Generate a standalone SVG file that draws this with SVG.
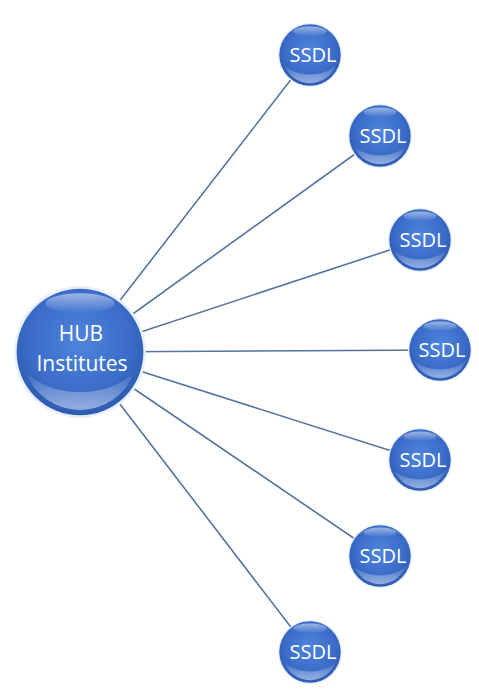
<svg xmlns="http://www.w3.org/2000/svg" width="479" height="691" viewBox="0 0 479 691">
  <defs>
    <radialGradient id="ball" cx="0.5" cy="0.42" r="0.58">
      <stop offset="0" stop-color="#4f84dc"/>
      <stop offset="0.7" stop-color="#3a6cc8"/>
      <stop offset="1" stop-color="#2d5bb2"/>
    </radialGradient>
    <linearGradient id="shine" x1="0" y1="0" x2="0" y2="1">
      <stop offset="0" stop-color="#ffffff" stop-opacity="0"/>
      <stop offset="1" stop-color="#d6e4ff" stop-opacity="0.6"/>
    </linearGradient>
    <linearGradient id="gloss" x1="0" y1="0" x2="0" y2="1">
      <stop offset="0" stop-color="#ffffff" stop-opacity="0.5"/>
      <stop offset="1" stop-color="#ffffff" stop-opacity="0"/>
    </linearGradient>
    <g id="orb">
      <circle r="1" fill="#e8effc"/>
      <circle r="0.96" fill="url(#ball)"/>
      <path d="M -0.82 0.3 A 0.87 0.87 0 0 0 0.82 0.3 A 0.95 0.62 0 0 1 -0.82 0.3 Z" fill="url(#shine)"/>
      <ellipse cx="0" cy="-0.74" rx="0.52" ry="0.15" fill="url(#gloss)"/>
    </g>
  </defs>
  <style>
    .spoke { stroke: #55739f; stroke-width: 1.6; fill: none; }
    .lbl { font-family: "Open Sans", "Liberation Sans", sans-serif; fill: #ffffff; text-anchor: middle; }
    .sm { font-size: 20px; }
    .lg { font-size: 21px; }
  </style>

  <!-- spokes from the hub to each satellite -->
  <g id="connectors">
    <line class="spoke" x1="80" y1="352" x2="310" y2="55"/>
    <line class="spoke" x1="80" y1="352" x2="380" y2="136"/>
    <line class="spoke" x1="80" y1="352" x2="420" y2="240"/>
    <line class="spoke" x1="80" y1="352" x2="440" y2="350"/>
    <line class="spoke" x1="80" y1="352" x2="420" y2="460"/>
    <line class="spoke" x1="80" y1="352" x2="380" y2="556"/>
    <line class="spoke" x1="80" y1="352" x2="310" y2="652"/>
  </g>

  <g id="hub">
    <use href="#orb" transform="translate(80 352) scale(66)"/>
    <text class="lbl lg" x="81" y="341">HUB</text>
    <text class="lbl lg" x="82" y="371">Institutes</text>
  </g>

  <g id="ssdl-1">
    <use href="#orb" transform="translate(310 55) scale(32)"/>
    <text class="lbl sm" x="313" y="62">SSDL</text>
  </g>
  <g id="ssdl-2">
    <use href="#orb" transform="translate(380 136) scale(32)"/>
    <text class="lbl sm" x="383" y="143">SSDL</text>
  </g>
  <g id="ssdl-3">
    <use href="#orb" transform="translate(420 240) scale(32)"/>
    <text class="lbl sm" x="423" y="247">SSDL</text>
  </g>
  <g id="ssdl-4">
    <use href="#orb" transform="translate(440 350) scale(32)"/>
    <text class="lbl sm" x="442" y="357">SSDL</text>
  </g>
  <g id="ssdl-5">
    <use href="#orb" transform="translate(420 460) scale(32)"/>
    <text class="lbl sm" x="423" y="467">SSDL</text>
  </g>
  <g id="ssdl-6">
    <use href="#orb" transform="translate(380 556) scale(32)"/>
    <text class="lbl sm" x="383" y="563">SSDL</text>
  </g>
  <g id="ssdl-7">
    <use href="#orb" transform="translate(310 652) scale(32)"/>
    <text class="lbl sm" x="313" y="659">SSDL</text>
  </g>
</svg>
